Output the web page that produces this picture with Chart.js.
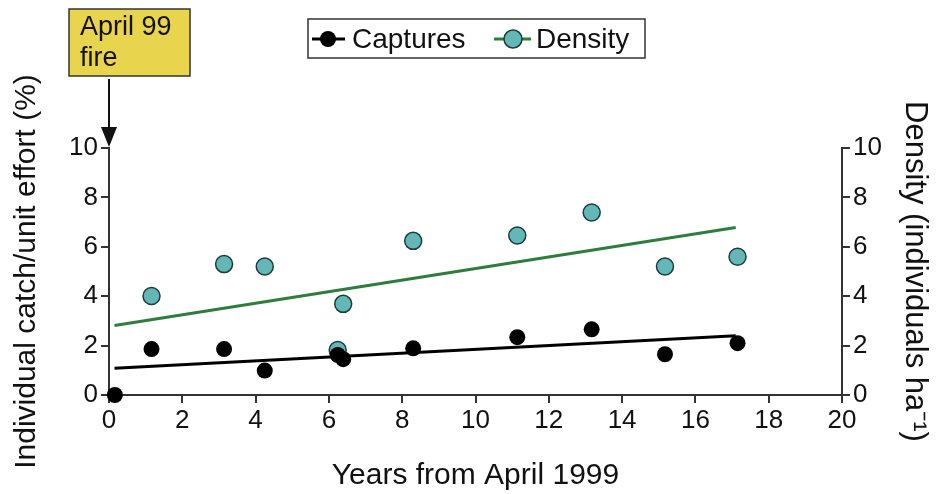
<!DOCTYPE html>
<html>
<head>
<meta charset="utf-8">
<script src="https://cdn.jsdelivr.net/npm/chart.js@4.4.1/dist/chart.umd.min.js"></script>
<style>
    html, body { margin: 0; padding: 0; background: #fff; }
    #wrap { width: 939px; height: 494px; position: relative; }
</style>
</head>
<body>
<div id="wrap"><canvas id="chart"></canvas></div>
<script>
'use strict'

// values
const captureYears = [0.16, 1.16, 3.14, 4.25, 6.24, 6.39, 8.3, 11.14, 13.17, 15.17, 17.15];
const captures = [0, 1.86, 1.86, 0.99, 1.62, 1.45, 1.89, 2.34, 2.66, 1.65, 2.1];
const densityYears = [1.16, 3.14, 4.25, 6.24, 6.39, 8.3, 11.14, 13.17, 15.17, 17.15];
const density = [4.01, 5.3, 5.2, 1.82, 3.69, 6.24, 6.46, 7.39, 5.2, 5.6];
const trendYears = [0.15, 17.1];
const capturesTrend = [1.08, 2.4];
const densityTrend = [2.81, 6.78];
const xTicks = [0, 2, 4, 6, 8, 10, 12, 14, 16, 18, 20];
const yTicks = [0, 2, 4, 6, 8, 10];

const FONT = "'Liberation Sans', Arial, Helvetica, sans-serif";
const axisColor = '#333333';
const teal = '#63b8b7';
const green = '#2e7d3e';

function toPoints(xs, ys) {
    return xs.map((x, i) => ({ x: x, y: ys[i] }));
}

function axisStyle(ticks) {
    return {
        min: 0,
        afterBuildTicks: function (scale) {
            scale.ticks = ticks.map(v => ({ value: v }));
        },
        ticks: { color: '#111', font: { family: FONT, size: 26 }, padding: 3 },
        grid: { drawOnChartArea: false, tickLength: 8, color: axisColor, lineWidth: 2 },
        border: { display: true, color: axisColor, width: 2 }
    };
}

const extras = {
    id: 'extras',
    afterDraw: function (chart) {
        const ctx = chart.ctx;
        ctx.save();

        // fire annotation box
        ctx.fillStyle = '#e8d44d';
        ctx.fillRect(69, 9, 121, 67);
        ctx.strokeStyle = '#333';
        ctx.lineWidth = 1.5;
        ctx.strokeRect(69, 9, 121, 67);
        ctx.fillStyle = '#111';
        ctx.font = '27px ' + FONT;
        ctx.textBaseline = 'alphabetic';
        ctx.fillText('April 99', 80, 35);
        ctx.fillText('fire', 80, 66);

        // arrow down to x = 0
        const ax = chart.scales.x.getPixelForValue(0);
        ctx.strokeStyle = '#111';
        ctx.lineWidth = 2;
        ctx.beginPath();
        ctx.moveTo(ax, 79);
        ctx.lineTo(ax, 130);
        ctx.stroke();
        ctx.fillStyle = '#111';
        ctx.beginPath();
        ctx.moveTo(ax - 8, 127);
        ctx.lineTo(ax + 8, 127);
        ctx.lineTo(ax, 147);
        ctx.closePath();
        ctx.fill();

        // legend
        ctx.fillStyle = '#fff';
        ctx.fillRect(308, 19, 337, 39);
        ctx.strokeStyle = '#333';
        ctx.lineWidth = 1.5;
        ctx.strokeRect(308, 19, 337, 39);

        ctx.lineWidth = 3;
        ctx.strokeStyle = '#000';
        ctx.beginPath();
        ctx.moveTo(312, 39);
        ctx.lineTo(345, 39);
        ctx.stroke();
        ctx.fillStyle = '#000';
        ctx.beginPath();
        ctx.arc(328, 39, 8, 0, Math.PI * 2);
        ctx.fill();

        ctx.strokeStyle = green;
        ctx.beginPath();
        ctx.moveTo(494, 39);
        ctx.lineTo(531, 39);
        ctx.stroke();
        ctx.fillStyle = teal;
        ctx.strokeStyle = '#1d3b3b';
        ctx.lineWidth = 1.5;
        ctx.beginPath();
        ctx.arc(513, 39, 9, 0, Math.PI * 2);
        ctx.fill();
        ctx.stroke();

        ctx.fillStyle = '#111';
        ctx.font = '28px ' + FONT;
        ctx.textBaseline = 'middle';
        ctx.fillText('Captures', 352, 40);
        ctx.fillText('Density', 536, 40);

        ctx.restore();
    }
};

const xAxis = axisStyle(xTicks);
xAxis.type = 'linear';
xAxis.max = 20;
xAxis.ticks.padding = 2;
xAxis.title = { display: true, text: 'Years from April 1999', color: '#111', font: { family: FONT, size: 30 }, padding: { top: 4, bottom: 0 } };
xAxis.afterFit = function (scale) { scale.height = 99; };

const yAxis = axisStyle(yTicks);
yAxis.position = 'left';
yAxis.max = 10;
yAxis.title = { display: true, text: 'Individual catch/unit effort (%)', color: '#111', font: { family: FONT, size: 30 }, padding: { top: 9, bottom: 0 } };
yAxis.afterFit = function (scale) { scale.width = 109; };

const y2Axis = axisStyle(yTicks);
y2Axis.position = 'right';
y2Axis.max = 10;
y2Axis.title = { display: true, text: 'Density (individuals ha\u207B\u00B9)', color: '#111', font: { family: FONT, size: 31 }, padding: { top: 6, bottom: 0 } };
y2Axis.afterFit = function (scale) { scale.width = 97; };

new Chart(document.getElementById('chart'), {
    type: 'scatter',
    data: {
        datasets: [
            {
                label: 'Captures',
                data: toPoints(captureYears, captures),
                yAxisID: 'y',
                backgroundColor: '#000',
                borderColor: '#000',
                borderWidth: 0,
                pointRadius: 8,
                clip: false,
                order: 0
            },
            {
                label: 'Density',
                data: toPoints(densityYears, density),
                yAxisID: 'y2',
                backgroundColor: teal,
                borderColor: '#1d3b3b',
                borderWidth: 1.5,
                pointRadius: 8.5,
                clip: false,
                order: 1
            },
            {
                type: 'line',
                label: 'Captures trend',
                data: toPoints(trendYears, capturesTrend),
                yAxisID: 'y',
                borderColor: '#000',
                borderWidth: 3,
                pointRadius: 0,
                fill: false,
                order: 2
            },
            {
                type: 'line',
                label: 'Density trend',
                data: toPoints(trendYears, densityTrend),
                yAxisID: 'y2',
                borderColor: green,
                borderWidth: 3,
                pointRadius: 0,
                fill: false,
                order: 3
            }
        ]
    },
    options: {
        responsive: true,
        maintainAspectRatio: false,
        animation: false,
        layout: { padding: { top: 148, left: 0, right: 0, bottom: 0 } },
        plugins: {
            legend: { display: false },
            tooltip: { enabled: false }
        },
        scales: { x: xAxis, y: yAxis, y2: y2Axis }
    },
    plugins: [extras]
});
</script>
</body>
</html>
